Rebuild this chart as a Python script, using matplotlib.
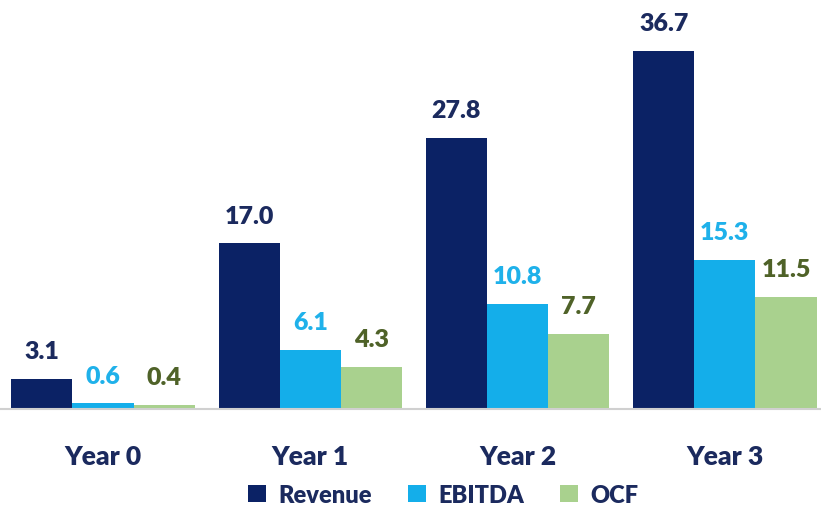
import numpy as np
import matplotlib.pyplot as plt

# -----------------------------
# Data
# -----------------------------
years = ["Year 0", "Year 1", "Year 2", "Year 3"]
revenue = [3.1, 17.0, 27.8, 36.7]
ebitda = [0.6, 6.1, 10.8, 15.3]
ocf = [0.4, 4.3, 7.7, 11.5]

series = ["Revenue", "EBITDA", "OCF"]
bar_colors = ["#0b2265", "#14aeea", "#a9d18e"]
label_colors = ["#1b2a5e", "#1fb1ea", "#4f6228"]

plt.rcParams['font.family'] = ['Lato', 'DejaVu Sans']

# -----------------------------
# Plot setup
# -----------------------------
fig = plt.figure(figsize=(8.21, 5.10), dpi=100)
ax = fig.add_axes([0, 0.196, 1, 0.804])

x = np.arange(len(years))
w = 0.295
values = [revenue, ebitda, ocf]

for i, (vals, name) in enumerate(zip(values, series)):
    pos = x + (i - 1) * w
    ax.bar(pos, vals, width=w, color=bar_colors[i], label=name)
    for px, v in zip(pos, vals):
        ax.annotate(f"{v:.1f}", (px, v), xytext=(0, 12), textcoords="offset points",
                    ha="center", va="bottom", fontsize=18, fontweight="heavy",
                    color=label_colors[i])

# -----------------------------
# Formatting
# -----------------------------
ax.set_xlim(-0.497, 3.464)
ax.set_ylim(0, 42.03)
ax.set_yticks([])
ax.set_xticks(x)
ax.set_xticklabels(years, fontsize=19, fontweight="heavy", color="#1b2a5e")
ax.tick_params(axis="x", length=0, pad=25)
for s in ["top", "right", "left"]:
    ax.spines[s].set_visible(False)
ax.spines["bottom"].set_color("#d0d0d0")
ax.spines["bottom"].set_linewidth(1.5)

leg = fig.legend(loc="lower center", bbox_to_anchor=(0.540, -0.036), ncol=3,
                 frameon=False, handlelength=0.76, handleheight=0.72,
                 columnspacing=1.5, handletextpad=0.55,
                 prop={"size": 17, "weight": "heavy"})
for t in leg.get_texts():
    t.set_color("#1b2a5e")

fig.savefig("out.png", dpi=100)
